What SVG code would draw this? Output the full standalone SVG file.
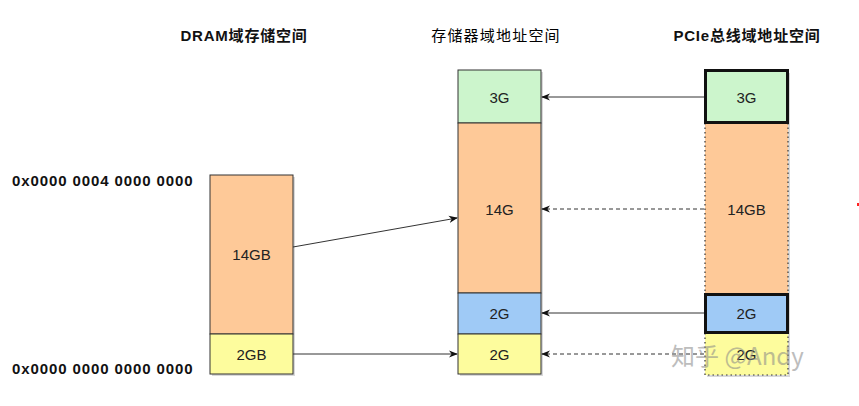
<svg xmlns="http://www.w3.org/2000/svg" width="859" height="406" viewBox="0 0 859 406">
<defs>
<style>
.title{font-family:"Liberation Sans","Noto Sans CJK SC",sans-serif;font-size:15px;font-weight:bold;fill:#111;text-anchor:middle;letter-spacing:0.8px}
.title2{font-family:"Liberation Sans","Noto Sans CJK SC",sans-serif;font-size:15px;fill:#000;text-anchor:middle;letter-spacing:1.2px}
.addr{font-family:"Liberation Sans",sans-serif;font-size:15px;font-weight:bold;fill:#111;letter-spacing:0.9px}
.lbl{font-family:"Liberation Sans",sans-serif;font-size:15px;fill:#222;text-anchor:middle}
.box{stroke:#333;stroke-width:1}
.thick{stroke:#111;stroke-width:3}
.dot{stroke:#333;stroke-width:1.2;stroke-dasharray:1.5 3}
.shadow{fill:#000;opacity:0.15}
.green{fill:#ccf5cc}
.orange{fill:#fec998}
.blue{fill:#9fcaf6}
.yellow{fill:#fdfc9d}
.conn{stroke:#333;stroke-width:1;fill:none}
.dash{stroke-dasharray:4 3}
.wm{font-family:"Noto Sans CJK SC","Liberation Sans",sans-serif;font-size:24px;fill:#888;opacity:0.55}
</style>
<marker id="arr" viewBox="0 0 10 10" refX="9" refY="5" markerWidth="9" markerHeight="9" orient="auto" markerUnits="userSpaceOnUse">
<path d="M0,1 L10,5 L0,9 L3,5 Z" fill="#111"/>
</marker>
</defs>
<rect width="859" height="406" fill="#fff"/>

<g id="titles">
<text class="title" x="244" y="41">DRAM域存储空间</text>
<text class="title2" x="496" y="41">存储器域地址空间</text>
<text class="title" x="747" y="41">PCIe总线域地址空间</text>
</g>

<g id="addresses">
<text class="addr" x="12" y="186">0x0000 0004 0000 0000</text>
<text class="addr" x="12" y="374">0x0000 0000 0000 0000</text>
</g>

<g id="dram">
<rect class="shadow" x="212" y="177" width="83" height="199"/>
<g id="dram-14gb"><rect class="box orange" x="210" y="175" width="83" height="159"/><text class="lbl" x="251.5" y="260">14GB</text></g>
<g id="dram-2gb"><rect class="box yellow" x="210" y="334" width="83" height="40"/><text class="lbl" x="251.5" y="360">2GB</text></g>
</g>

<g id="mem">
<rect class="shadow" x="460" y="72" width="83" height="304"/>
<g id="mem-3g"><rect class="box green" x="458" y="70" width="83" height="53"/><text class="lbl" x="499.5" y="103">3G</text></g>
<g id="mem-14g"><rect class="box orange" x="458" y="123" width="83" height="170"/><text class="lbl" x="499.5" y="215">14G</text></g>
<g id="mem-2g-blue"><rect class="box blue" x="458" y="293" width="83" height="41"/><text class="lbl" x="499.5" y="319">2G</text></g>
<g id="mem-2g-yellow"><rect class="box yellow" x="458" y="334" width="83" height="40"/><text class="lbl" x="499.5" y="360">2G</text></g>
</g>

<g id="pcie">
<rect class="shadow" x="707" y="73" width="83" height="304"/>
<g id="pcie-14gb"><rect class="orange" x="705" y="123" width="83" height="170"/><path class="dot" d="M705,123 V293 M788,123 V293" fill="none"/><text class="lbl" x="746.5" y="215">14GB</text></g>
<g id="pcie-2g-yellow"><rect class="yellow" x="705" y="333" width="83" height="42"/><path class="dot" d="M705,333 V375 H788 V333" fill="none"/><text class="lbl" x="746.5" y="360">2G</text></g>
<g id="pcie-3g"><rect class="thick green" x="705.5" y="70.5" width="82" height="52"/><text class="lbl" x="746.5" y="103">3G</text></g>
<g id="pcie-2g-blue"><rect class="thick blue" x="705.5" y="294.5" width="82" height="38"/><text class="lbl" x="746.5" y="319">2G</text></g>
</g>

<g id="connectors">
<line class="conn" x1="704" y1="97" x2="542" y2="97" marker-end="url(#arr)"/>
<line class="conn dash" x1="704" y1="209" x2="542" y2="209" marker-end="url(#arr)"/>
<line class="conn" x1="704" y1="313" x2="542" y2="313" marker-end="url(#arr)"/>
<line class="conn dash" x1="704" y1="354" x2="542" y2="354" marker-end="url(#arr)"/>
<line class="conn" x1="293" y1="247" x2="457" y2="218" marker-end="url(#arr)"/>
<line class="conn" x1="293" y1="354" x2="457" y2="354" marker-end="url(#arr)"/>
</g>

<text class="wm" x="671" y="365">知乎 @Andy</text>
<rect x="857" y="203" width="2" height="3" fill="#f22"/>
</svg>
